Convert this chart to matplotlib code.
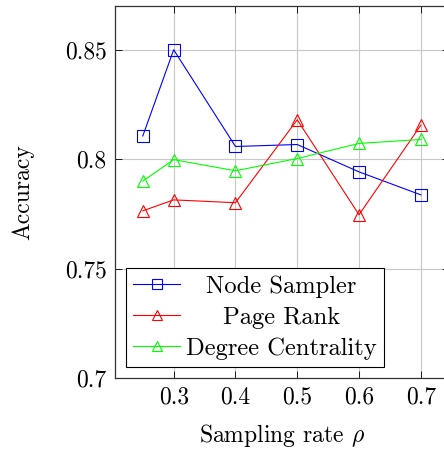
import numpy as np
import matplotlib as mpl
import matplotlib.pyplot as plt
import matplotlib.ticker as mticker

plt.switch_backend('Agg')

mpl.rcParams['font.family'] = 'serif'
mpl.rcParams['font.serif'] = ['cmr10']
mpl.rcParams['mathtext.fontset'] = 'cm'
mpl.rcParams['axes.formatter.use_mathtext'] = True

rates = [0.25, 0.3, 0.4, 0.5, 0.6, 0.7]
node_sampler = [0.8106, 0.850, 0.8058, 0.8067, 0.7942, 0.7837]
page_rank = [0.7764, 0.7814, 0.7801, 0.8180, 0.7746, 0.8155]
degree_centrality = [0.7900, 0.7998, 0.7947, 0.8003, 0.8072, 0.8090]

x_ticks = [0.3, 0.4, 0.5, 0.6, 0.7]
y_ticks = [0.7, 0.75, 0.8, 0.85]

fig = plt.figure(figsize=(4.44, 4.53), dpi=100)
ax = fig.add_axes([115 / 444, 75 / 453, 333.6 / 444, 372 / 453])

ax.plot(rates, node_sampler, color='blue', lw=0.8, marker='s', ms=8.5,
        mfc='none', mew=0.8, label='Node Sampler')
ax.plot(rates, page_rank, color='red', lw=0.8, marker='^', ms=8,
        mfc='none', mew=0.8, label='Page Rank')
ax.plot(rates, degree_centrality, color='#00ff00', lw=0.8, marker='^', ms=8,
        mfc='none', mew=0.8, label='Degree Centrality')

ax.set_xlim(0.205, 0.745)
ax.set_ylim(0.7, 0.87)
ax.set_xticks(x_ticks)
ax.set_yticks(y_ticks)
ax.xaxis.set_major_formatter(mticker.FuncFormatter(lambda v, p: '%g' % v))
ax.yaxis.set_major_formatter(mticker.FuncFormatter(lambda v, p: '%g' % v))
ax.tick_params(direction='in', length=5, width=0.6, labelsize=17,
               top=True, right=True, pad=6)
ax.grid(True, color='#c8c8c8', lw=0.8)
ax.set_axisbelow(True)
for s in ax.spines.values():
    s.set_linewidth(0.9)
    s.set_color('#333333')

ax.set_xlabel(r'Sampling rate $\rho$', fontsize=17, labelpad=10)
ax.set_ylabel('Accuracy', fontsize=17, labelpad=22)

leg = ax.legend(loc='lower left', bbox_to_anchor=(11 / 333.6, 11 / 372),
                borderaxespad=0, fontsize=17.7, fancybox=False,
                edgecolor='black', framealpha=1, handlelength=1.9,
                handletextpad=0.25, labelspacing=0.35, borderpad=0.3,
                markerscale=0.85)
leg.get_frame().set_linewidth(0.8)

# center the legend entries like pgfplots does
fig.canvas.draw()
r = fig.canvas.get_renderer()
texts = leg.get_texts()
widths = [t.get_window_extent(r).width for t in texts]
wmax = max(widths)
for t, w in zip(texts, widths):
    t.set_x((wmax - w) / 2)

fig.savefig('out.png', dpi=100)
